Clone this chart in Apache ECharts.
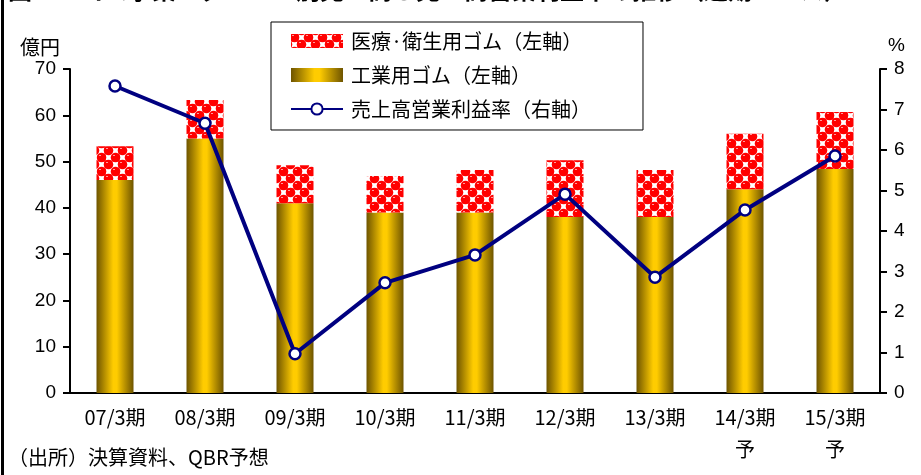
<!DOCTYPE html>
<html>
<head>
<meta charset="utf-8">
<script src="https://cdn.jsdelivr.net/npm/echarts@6/dist/echarts.min.js"></script>
<style>
  html, body { margin: 0; padding: 0; background: #fff; }
  #chart { width: 921px; height: 475px; }
</style>
</head>
<body>
<div id="chart"></div>
<script>
const categories = ['07/3期', '08/3期', '09/3期', '10/3期', '11/3期', '12/3期', '13/3期', '14/3期\n予', '15/3期\n予']
const industrial = [46, 55, 41, 39, 39, 38, 38, 44, 48.4]
const medical = [7.3, 8.3, 8.2, 7.9, 9.2, 12.3, 10.2, 12, 12.3]
const marginRate = [7.58, 6.66, 0.97, 2.72, 3.41, 4.91, 2.86, 4.52, 5.85]
const leftTicks = [0, 70, 10]
const rightTicks = [0, 8, 1]

const FONT = '"Noto Sans CJK JP", sans-serif'
const NUMFONT = '"Liberation Sans", Arial, sans-serif'

// red/white checker tile for the medical rubber bars
function makePattern() {
  const c = document.createElement('canvas')
  c.width = 14
  c.height = 14
  const g = c.getContext('2d')
  g.fillStyle = '#ffffff'
  g.fillRect(0, 0, 14, 14)
  const dots = [[3.5, 3.5], [10.5, 10.5], [-3.5, 10.5], [10.5, -3.5], [17.5, 3.5], [3.5, 17.5]]
  dots.forEach(([x, y]) => {
    g.fillStyle = '#ff0000'
    g.beginPath()
    g.arc(x, y, 4.8, 0, Math.PI * 2)
    g.fill()
    g.fillStyle = '#ff9a9a'
    g.fillRect(x - 2.5, y - 2.5, 2, 1)
  })
  g.fillStyle = '#ff0000'
  g.fillRect(0, 6.5, 14, 1)
  g.fillRect(6.5, 0, 1, 14)
  return c
}

const goldGradient = new echarts.graphic.LinearGradient(0, 0, 1, 0, [
  { offset: 0, color: '#6e5400' },
  { offset: 0.45, color: '#ffcc00' },
  { offset: 0.55, color: '#ffcc00' },
  { offset: 1, color: '#6e5400' }
])

const chart = echarts.init(document.getElementById('chart'))
chart.setOption({
  animation: false,
  backgroundColor: '#fff',
  textStyle: { fontFamily: FONT },
  grid: { left: 70, right: 41, top: 69, bottom: 82 },
  legend: {
    orient: 'vertical',
    left: 271,
    top: 22,
    padding: [9, 52, 11, 19],
    itemGap: 14,
    itemWidth: 52,
    itemHeight: 14,
    borderColor: '#000',
    borderWidth: 1,
    backgroundColor: '#fff',
    textStyle: { fontSize: 20, color: '#000', fontFamily: FONT, padding: [0, 0, 0, 3] },
    data: [
      { name: '医療·衛生用ゴム（左軸）', icon: 'rect' },
      { name: '工業用ゴム（左軸）', icon: 'rect' },
      { name: '売上高営業利益率（右軸）' }
    ]
  },
  graphic: [
    {
      type: 'rect',
      shape: { x: 1, y: 0, width: 3, height: 475 },
      style: { fill: '#000' }
    },
    {
      type: 'text',
      left: 8,
      top: -22,
      style: {
        text: '図　　ゴム事業セグメント別売上高と売上高営業利益率の推移（通期ベース）',
        font: 'bold 24px "Noto Sans CJK JP"',
        fill: '#000'
      }
    },
    {
      type: 'text',
      left: 8,
      top: 447,
      style: { text: '（出所）決算資料、QBR予想', font: '20px "Noto Sans CJK JP"', fill: '#000' }
    }
  ],
  xAxis: {
    type: 'category',
    data: categories,
    axisLine: { lineStyle: { color: '#000', width: 2 } },
    axisTick: { show: false },
    axisLabel: { color: '#000', fontSize: 20, lineHeight: 32, margin: 8, fontFamily: FONT }
  },
  yAxis: [
    {
      type: 'value',
      min: leftTicks[0],
      max: leftTicks[1],
      interval: leftTicks[2],
      name: '億円',
      nameLocation: 'end',
      nameGap: 12,
      nameTextStyle: { color: '#000', fontSize: 20, align: 'right', padding: [0, 10, 0, 0] },
      axisLine: { show: true, lineStyle: { color: '#000', width: 2 } },
      axisTick: { show: true, length: 7, lineStyle: { color: '#000', width: 2 } },
      axisLabel: { color: '#000', fontSize: 19, margin: 14, fontFamily: NUMFONT },
      splitLine: { show: false }
    },
    {
      type: 'value',
      min: rightTicks[0],
      max: rightTicks[1],
      interval: rightTicks[2],
      name: '%',
      nameLocation: 'end',
      nameGap: 14,
      nameTextStyle: { color: '#000', fontSize: 19, align: 'left', padding: [0, 0, 0, 8], fontFamily: NUMFONT },
      axisLine: { show: true, lineStyle: { color: '#000', width: 2 } },
      axisTick: { show: true, length: 7, lineStyle: { color: '#000', width: 2 } },
      axisLabel: { color: '#000', fontSize: 19, margin: 14, fontFamily: NUMFONT },
      splitLine: { show: false }
    }
  ],
  series: [
    {
      name: '工業用ゴム（左軸）',
      type: 'bar',
      stack: 'sales',
      barWidth: 37,
      data: industrial,
      itemStyle: { color: goldGradient }
    },
    {
      name: '医療·衛生用ゴム（左軸）',
      type: 'bar',
      stack: 'sales',
      barWidth: 37,
      data: medical,
      itemStyle: { color: { image: makePattern(), repeat: 'repeat' } }
    },
    {
      name: '売上高営業利益率（右軸）',
      type: 'line',
      yAxisIndex: 1,
      data: marginRate,
      symbol: 'circle',
      symbolSize: 11,
      lineStyle: { color: '#000080', width: 4 },
      itemStyle: { color: '#fff', borderColor: '#000080', borderWidth: 2.5 },
      z: 5
    }
  ]
})
</script>
</body>
</html>
